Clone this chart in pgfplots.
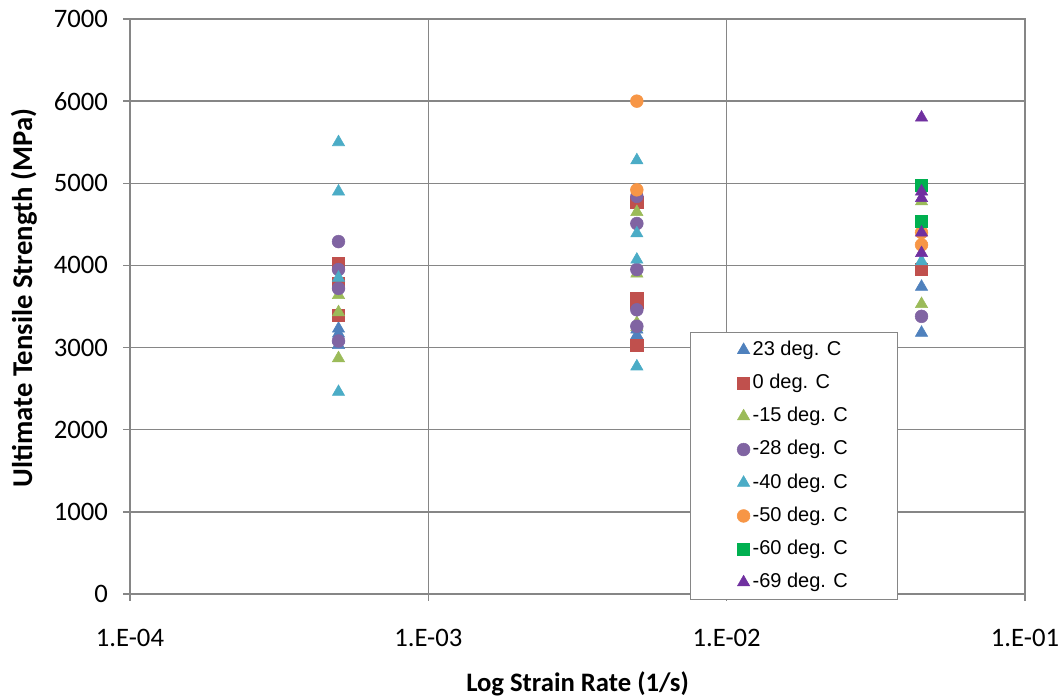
\documentclass[border=0pt]{standalone}
\usepackage{pgfplots}
\pgfplotsset{compat=1.18}
\usepackage{fontspec}
\setmainfont{Carlito}
\newfontfamily\legfont{Liberation Sans}
\definecolor{cA}{HTML}{4F81BD}
\definecolor{cB}{HTML}{C0504D}
\definecolor{cC}{HTML}{9BBB59}
\definecolor{cD}{HTML}{8064A2}
\definecolor{cE}{HTML}{4BACC6}
\definecolor{cF}{HTML}{F79646}
\definecolor{cG}{HTML}{00B050}
\definecolor{cH}{HTML}{7030A0}
\definecolor{gridc}{HTML}{868686}
\begin{document}
\begin{tikzpicture}
\useasboundingbox (-97.5pt,-78pt) rectangle (697.5pt,445.5pt);
\begin{axis}[
  at={(0,0)}, anchor=south west,
  scale only axis, width=671.25pt, height=431.25pt,
  xmode=log, xmin=1e-4, xmax=1e-1, ymin=0, ymax=7000,
  xtick={1e-4,1e-3,1e-2,1e-1},
  xticklabels={1.E-04,1.E-03,1.E-02,1.E-01},
  xminorticks=false,
  ytick={0,1000,2000,3000,4000,5000,6000,7000},
  yticklabel style={/pgf/number format/assume math mode=true,/pgf/number format/set thousands separator={}, xshift=-8pt},
  xticklabel style={yshift=-18pt},
  grid=major,
  major grid style={color=gridc, line width=1pt},
  axis line style={color=gridc, line width=1pt},
  tick style={color=gridc, line width=1pt},
  tick align=outside, tick pos=left, major tick length=5pt,
  font=\fontsize{20}{24}\selectfont,
  xlabel={\bfseries Log Strain Rate (1/s)},
  ylabel={\fontsize{21.5}{25}\selectfont\bfseries Ultimate Tensile Strength (MPa)},
  xlabel style={at={(axis description cs:0.5,-0.1693)}, anchor=base},
  ylabel style={at={(axis description cs:-0.1092,0.5148)}, anchor=base},
  legend style={at={(axis description cs:0.6257,0.4555)}, anchor=north west,
    draw=gridc, line width=0.8pt, fill=white, inner xsep=35pt, inner ysep=4pt,
    font=\legfont\fontsize{15}{18}\selectfont,
    nodes={inner sep=2pt, text height=11pt, text depth=3pt}, row sep=6.9pt},
  legend cell align=left,
  legend image code/.code={\draw[mark repeat=2,mark phase=2,line width=0.4pt] plot coordinates {(0cm,0cm)(0.17cm,0cm)(0.34cm,0cm)};},
]
\addplot[only marks, mark=triangle*, mark size=5.3pt, color=cA, fill=cA] coordinates {
 (5e-4,3230) (5e-4,3170) (5e-4,3100) (5e-4,3030)
 (5e-3,3150) (5e-3,3220)
 (4.5e-2,3740) (4.5e-2,3180)};
\addlegendentry{23 deg. C}
\addplot[only marks, mark=square*, mark size=4.6pt, color=cB, fill=cB] coordinates {
 (5e-4,4020) (5e-4,3780) (5e-4,3390)
 (5e-3,4770) (5e-3,3600) (5e-3,3550) (5e-3,3030)
 (4.5e-2,3950)};
\addlegendentry{0 deg. C}
\addplot[only marks, mark=triangle*, mark size=5.3pt, color=cC, fill=cC] coordinates {
 (5e-4,3640) (5e-4,3430) (5e-4,2870)
 (5e-3,4650) (5e-3,3900) (5e-3,3300) (5e-3,3250)
 (4.5e-2,4780) (4.5e-2,3530)};
\addlegendentry{-15 deg. C}
\addplot[only marks, mark=*, mark size=4.8pt, color=cD, fill=cD] coordinates {
 (5e-4,4290) (5e-4,3950) (5e-4,3720) (5e-4,3080)
 (5e-3,4840) (5e-3,4510) (5e-3,3950) (5e-3,3460) (5e-3,3260)
 (4.5e-2,3380)};
\addlegendentry{-28 deg. C}
\addplot[only marks, mark=triangle*, mark size=5.3pt, color=cE, fill=cE] coordinates {
 (5e-4,5500) (5e-4,4900) (5e-4,3850) (5e-4,2460)
 (5e-3,5280) (5e-3,4390) (5e-3,4070) (5e-3,2770)
 (4.5e-2,4050)};
\addlegendentry{-40 deg. C}
\addplot[only marks, mark=*, mark size=4.8pt, color=cF, fill=cF] coordinates {
 (5e-3,6000) (5e-3,4920)
 (4.5e-2,4400) (4.5e-2,4250)};
\addlegendentry{-50 deg. C}
\addplot[only marks, mark=square*, mark size=4.6pt, color=cG, fill=cG] coordinates {
 (4.5e-2,4980) (4.5e-2,4540)};
\addlegendentry{-60 deg. C}
\addplot[only marks, mark=triangle*, mark size=5.3pt, color=cH, fill=cH] coordinates {
 (4.5e-2,5800) (4.5e-2,4900) (4.5e-2,4820) (4.5e-2,4400) (4.5e-2,4150)};
\addlegendentry{-69 deg. C}
\end{axis}
\end{tikzpicture}
\end{document}
